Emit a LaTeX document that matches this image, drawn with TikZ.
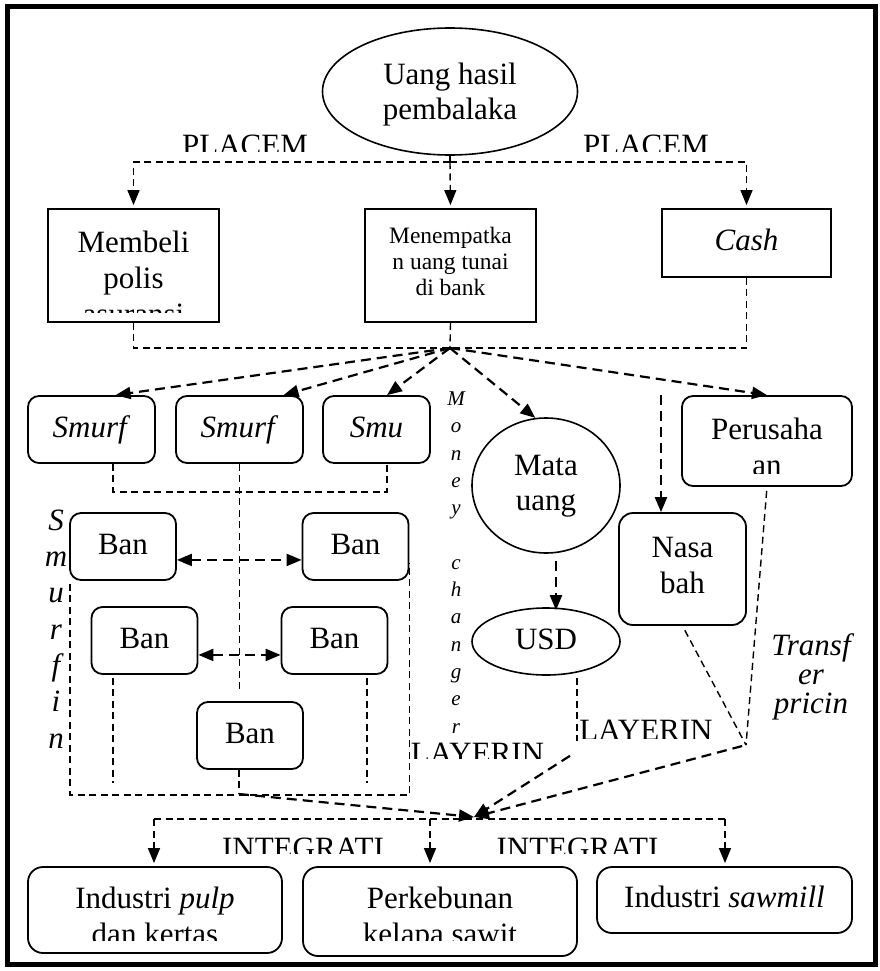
\documentclass[tikz,border=0pt]{standalone}
\usepackage{fontspec}
\setmainfont{Liberation Serif}
\usepackage{tikz}
\usetikzlibrary{arrows.meta,shapes.geometric,calc}
\tikzset{
 txt/.style={font=\fontsize{31}{36}\selectfont, inner sep=0pt, align=center},
 sqbox/.style={draw, line width=1.8pt, inner sep=0pt, font=\fontsize{31}{36}\selectfont, text height=21pt, text depth=6pt},
 rbox/.style={sqbox, rounded corners=11pt},
 oval/.style={draw, ellipse, line width=1.6pt, inner sep=0pt, font=\fontsize{31}{36}\selectfont, text height=21pt, text depth=6pt},
 dline/.style={line width=1.4pt, dash pattern=on 7pt off 4.5pt},
 dtip/.style={dline, shorten >=3pt, -{Triangle[length=15pt,width=12pt]}},
 darrow/.style={line width=2.2pt, dash pattern=on 10pt off 6pt, -{Triangle[length=15pt,width=12pt]}},
 dbl/.style={darrow, {Triangle[length=15pt,width=12pt]}-{Triangle[length=15pt,width=12pt]}}
}
% text cut off at the lower edge of its box; #4 is the base of the last line
\newcommand{\cliptext}[5]{
 \begin{scope}
 \clip #2 rectangle #3;
 \node[txt, anchor=base] (#1) at #4 {#5};
 \end{scope}
}

\begin{document}
\begin{tikzpicture}[x=1pt,y=-1pt]
 \useasboundingbox (0,0) rectangle (879,971);
 \draw[line width=5pt] (7.5,6.5) rectangle (875.5,964);
%
 \node[oval, minimum width=255, minimum height=127] (top) at (450,91.5) {};
 \node[txt, anchor=base, font=\fontsize{31}{35}\selectfont] (toptxt) at (450,120) {Uang hasil\\pembalaka};
 \cliptext{placemL}{(150,120)}{(340,151)}{(245,155.5)}{PLACEM}
 \cliptext{placemR}{(560,120)}{(740,151)}{(646,155.5)}{PLACEM}
%
 \node[sqbox, minimum width=171, minimum height=113] (mem) at (133.5,265.5) {};
 \cliptext{memtxt}{(48,209)}{(219,312)}{(133.5,324)}{Membeli\\polis\\asuransi}
 \node[sqbox, minimum width=171, minimum height=113] (menem) at (450.5,265.5) {};
 \node[txt, anchor=base, font=\fontsize{23.5}{26}\selectfont] (menemtxt) at (450.5,295) {Menempatka\\n uang tunai\\di bank};
 \node[sqbox, minimum width=169, minimum height=68] (cash) at (746.5,243) {\textit{Cash}};
%
 \coordinate (hubA) at (450,162);
 \draw[dline] (top.south) -- (hubA);
 \draw[dtip] (hubA) -| (mem.north);
 \draw[dtip] (hubA) -- (menem.north);
 \draw[dtip] (hubA) -| (cash.north);
%
 \coordinate (hubB) at (450,348);
 \draw[dline] (mem.south) |- (hubB);
 \draw[dline] (menem.south) -- (hubB);
 \draw[dline] (cash.south) |- (hubB);
%
 \node[rbox, minimum width=127, minimum height=67] (smA) at (91.5,429.5) {\textit{Smurf}};
 \node[rbox, minimum width=127, minimum height=67] (smB) at (239.5,429.5) {\textit{Smurf}};
 \node[rbox, minimum width=107, minimum height=67] (smC) at (376.5,429.5) {\textit{Smu}};
 \node[oval, minimum width=148, minimum height=135] (mata) at (546,485.5) {};
 \node[txt, anchor=base, font=\fontsize{31}{35}\selectfont] (matatxt) at (546,510) {Mata\\uang};
 \node[oval, minimum width=148, minimum height=67] (usd) at (546,641.5) {USD};
 \node[rbox, minimum width=170, minimum height=90] (peru) at (767,441) {};
 \cliptext{perutxt}{(682,396)}{(852,473)}{(767,475)}{Perusaha\\an}
 \node[rbox, rounded corners=14pt, minimum width=127, minimum height=112] (nasa) at (682.5,569) {};
 \node[txt, anchor=base] (nasatxt) at (682.5,593) {Nasa\\bah};
%
 \draw[darrow] (hubB) -- (smA.55);
 \draw[darrow] (hubB) -- (smB.38);
 \draw[darrow] (hubB) -- (smC.73);
 \draw[darrow] (hubB) -- (mata.99);
 \draw[darrow] (hubB) -- (peru.north);
 \coordinate (nasaIn) at (661,395);
 \draw[darrow] (nasaIn) -- (nasaIn |- nasa.north);
 \draw[darrow] ($(mata.south)+(10,7)$) -- ($(usd.north)+(10,3)$);
%
 \draw[dline] ($(smA.south)+(21.5,0)$) |- ($(smC.south)+(10.5,28)$) -- ($(smC.south)+(10.5,0)$);
%
 \node[rbox, minimum width=106, minimum height=67] (banA) at (123,546.5) {Ban};
 \node[rbox, minimum width=106, minimum height=67] (banB) at (355.5,546.5) {Ban};
 \node[rbox, minimum width=106, minimum height=67] (banC) at (144.5,640.5) {Ban};
 \node[rbox, minimum width=106, minimum height=67] (banD) at (334.5,640.5) {Ban};
 \node[rbox, minimum width=106, minimum height=67] (banE) at (250,735.5) {Ban};
 \draw[dline, shorten >=10pt] (smB.south) -- (smB.south |- banE.north);
 \draw[dbl] (banA.-14) -- (banB.194);
 \draw[dbl] (banC.-15) -- (banD.195);
 \draw[dline] ($(banA.south west)+(1,3)$) |- ($(banB.south east)+(0,214)$) -- ($(banB.east)+(0,16)$);
 \draw[dline] ($(banC.south)+(-31.5,3)$) -- ++(0,105);
 \draw[dline] ($(banD.south)+(32.5,3)$) -- ++(0,105);
%
 \node[txt, anchor=base, font=\itshape\fontsize{31}{36.3}\selectfont] (smurfing) at (56,748) {S\\m\\u\\r\\f\\i\\n};
 \node[txt, anchor=base, font=\itshape\fontsize{21}{27.3}\selectfont] (changer) at (456,733) {M\\o\\n\\e\\y\\[27.3pt]c\\h\\a\\n\\g\\e\\r};
 \node[txt, anchor=base, font=\itshape\fontsize{31}{29}\selectfont] (transfer) at (811,713) {Transf\\er\\pricin};
 \cliptext{layerL}{(400,730)}{(560,758)}{(477.5,763.5)}{LAYERIN}
 \cliptext{layerR}{(570,710)}{(725,738)}{(646,740.5)}{LAYERIN}
%
 \coordinate (banOut) at (239,794);
 \coordinate (hubC) at (474,817);
 \coordinate (trp) at (746,745);
 \draw[dline] (banE.south -| banOut) -- (banOut);
 \draw[darrow] (banOut) -- (hubC);
 \draw[dline] ($(usd.south)+(31,2)$) -- ++(0,63);
 \draw[darrow] ($(usd.south)+(24,80)$) -- (hubC);
 \draw[dline, shorten <=5pt] (nasa.south) -- (trp);
 \draw[dline, shorten <=4pt] (peru.south) -- (trp);
 \draw[darrow, shorten <=4pt] (trp) -- (hubC);
%
 \node[rbox, rounded corners=15pt, minimum width=254, minimum height=86] (pulp) at (155,910) {};
 \cliptext{pulptxt}{(28,867)}{(282,940)}{(155,944)}{Industri \textit{pulp}\\dan kertas}
 \node[rbox, rounded corners=15pt, minimum width=274, minimum height=89] (sawit) at (440,911.5) {};
 \cliptext{sawittxt}{(303,867)}{(577,940)}{(440,944)}{Perkebunan\\kelapa sawit}
 \node[rbox, rounded corners=15pt, minimum width=255, minimum height=66] (sawmill) at (724.5,900) {Industri \textit{sawmill}};
 \cliptext{integL}{(200,820)}{(400,853)}{(303,858.5)}{INTEGRATI}
 \cliptext{integR}{(480,820)}{(680,853)}{(577.5,858.5)}{INTEGRATI}
%
 \coordinate (botL) at (154,819);
 \coordinate (botM) at (430,819);
 \coordinate (botR) at (725,819);
 \draw[dline] (botL) -- (botR);
 \draw[dtip] (botL) -- (botL |- pulp.north);
 \draw[dtip] (botM) -- (botM |- sawit.north);
 \draw[dtip] (botR) -- (botR |- sawmill.north);
\end{tikzpicture}
\end{document}
